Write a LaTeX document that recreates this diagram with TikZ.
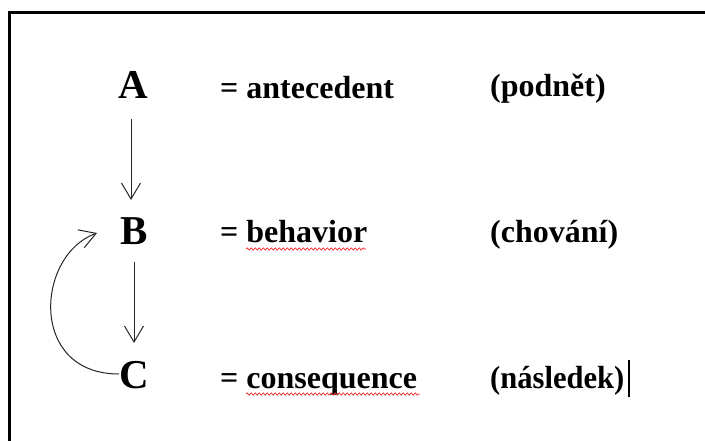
\documentclass[tikz,border=0pt]{standalone}
\usepackage{fontspec}
\setmainfont{Liberation Serif}
\usetikzlibrary{arrows.meta,decorations.pathmorphing}
\tikzset{
  letter/.style={inner sep=0pt, anchor=base, font=\fontsize{41}{45}\selectfont\bfseries},
  txt/.style={inner sep=0pt, anchor=base west, font=\fontsize{32}{36}\selectfont\bfseries},
  flow/.style={line width=1pt, draw=black!85, -{Straight Barb[length=16pt,width=19pt,line width=1pt]}},
  wave/.style={red!85!white, line width=0.7pt, decorate, decoration={snake, segment length=4pt, amplitude=1.1pt}}
}
\begin{document}
\begin{tikzpicture}[x=1pt,y=1pt]
\useasboundingbox (0,0) rectangle (705,-441);
\fill[white] (0,0) rectangle (705,-441);
% border (extends beyond picture on right and bottom)
\draw[line width=3.3pt] (9.6,-460) -- (9.6,-12.3) -- (720,-12.3);
% letters
\node[letter] (A) at (133,-99) {A};
\node[letter] (B) at (134,-244) {B};
\node[letter] (C) at (134,-388) {C};
% texts
\node[txt] (ta) at (220,-99) {= antecedent};
\node[txt] (tb) at (220,-243) {= behavior};
\node[txt] (tc) at (220,-388) {= consequence};
\node[txt] (pa) at (490,-97) {(podnět)};
\node[txt] (pb) at (490,-243) {(chování)};
\node[txt, xscale=0.955] (pc) at (490,-388) {(následek)};
% spell-check underlines
\coordinate (wb1) at (246,-249);
\coordinate (wb2) at (366,-249);
\coordinate (wc1) at (246,-394);
\coordinate (wc2) at (420,-394);
\draw[wave] (wb1) -- (wb2);
\draw[wave] (wc1) -- (wc2);
% text cursor
\coordinate (cur1) at (629,-360);
\coordinate (cur2) at (629,-397);
\draw[line width=1.2pt] (cur1) -- (cur2);
% connectors
\coordinate (a1) at (131,-119);
\coordinate (a2) at (131,-200);
\coordinate (b1) at (134,-262);
\coordinate (b2) at (134,-343);
\draw[flow] (a1) -- (a2);
\draw[flow] (b1) -- (b2);
\coordinate (c0) at (119,-374);
\coordinate (bt) at (97,-233);
\draw[flow] (c0) .. controls (28,-374) and (36,-255) .. (bt);
\end{tikzpicture}
\end{document}
